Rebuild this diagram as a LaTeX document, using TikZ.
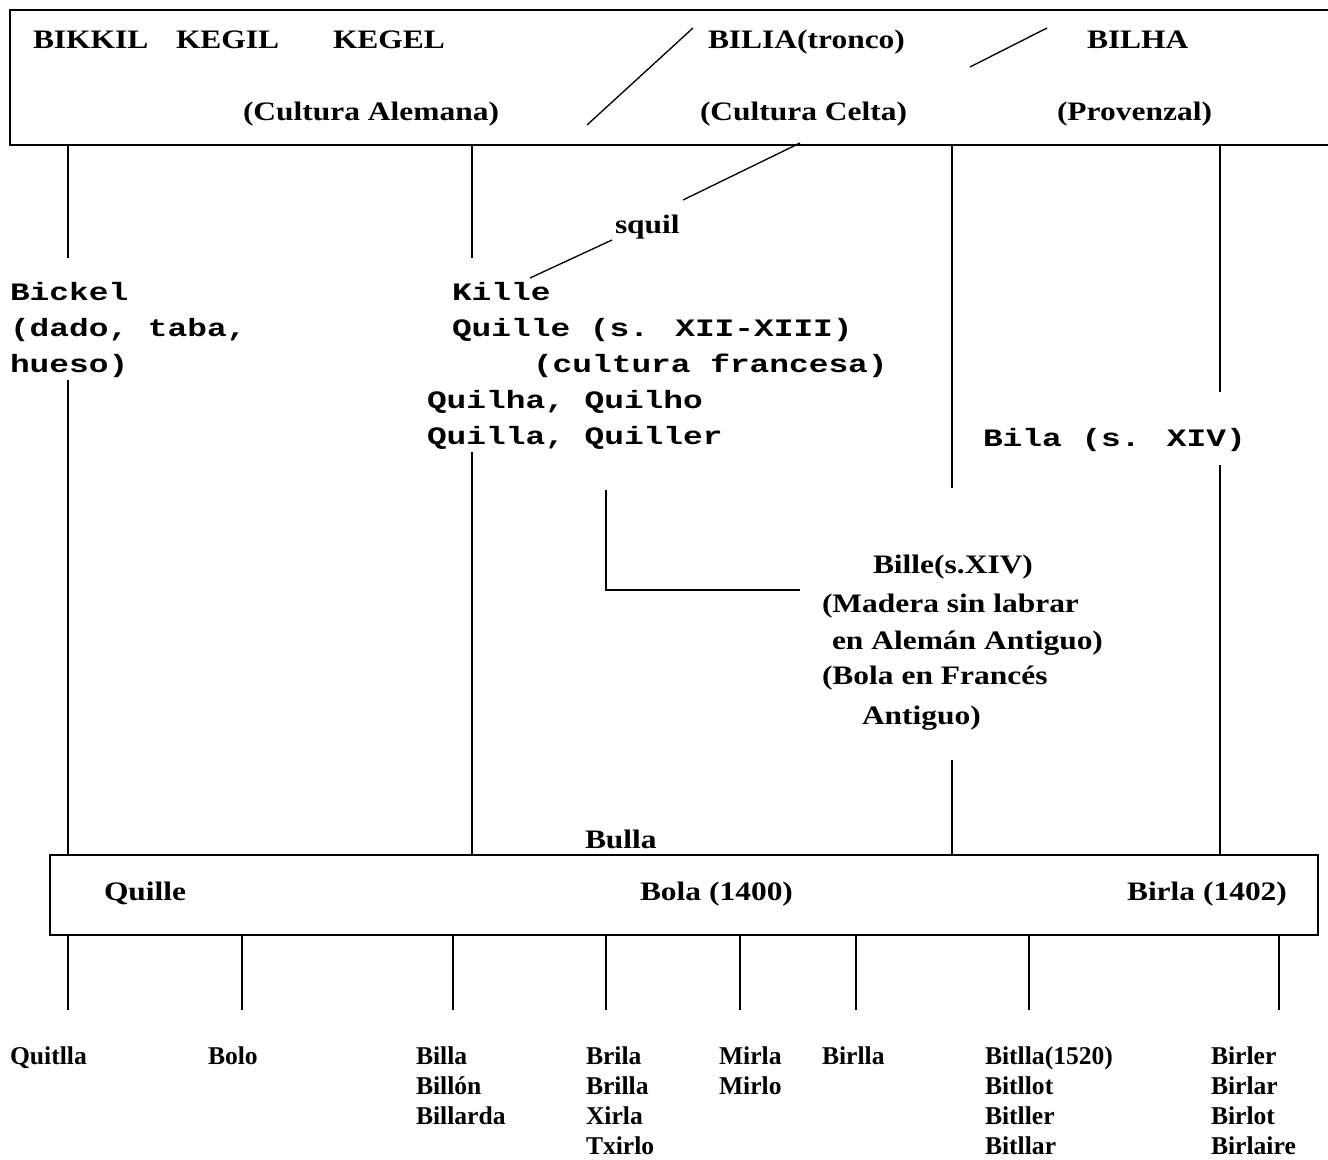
\documentclass[tikz,border=0pt]{standalone}
\usepackage{fontspec}
\setmainfont{Liberation Serif}
\newfontfamily\topserif[FakeStretch=1.18]{Liberation Serif}
\newfontfamily\botserif{Liberation Serif}
\newfontfamily\monofam[FakeStretch=1.31]{Liberation Mono}
\tikzset{
  txt/.style={anchor=base west, inner sep=0pt, outer sep=0pt},
  big/.style={txt, font=\topserif\bfseries\fontsize{20}{24}\selectfont},
  mono/.style={txt, font=\monofam\bfseries\fontsize{18.8}{27}\selectfont},
  small/.style={txt, font=\botserif\bfseries\fontsize{19.2}{22.5}\selectfont},
  boxline/.style={line width=1.4pt},
  conn/.style={line width=1pt},
}
\begin{document}
\begin{tikzpicture}[x=0.75pt, y=-0.75pt]
\useasboundingbox (0,0) rectangle (1328,1160);
% boxes
\draw[boxline] (1345,10) -- (10,10) -- (10,145) -- (1345,145);
\draw[boxline] (50,855) rectangle (1318,935);
% top texts
\node[big] (bikkil) at (33,48) {BIKKIL};
\node[big] (kegil) at (176,48) {KEGIL};
\node[big] (kegel) at (333,48) {KEGEL};
\node[big] (bilia) at (708,48) {BILIA(tronco)};
\node[big] (bilha) at (1087,48) {BILHA};
\node[big] (alemana) at (243,120) {(Cultura Alemana)};
\node[big] (celta) at (700,120) {(Cultura Celta)};
\node[big] (provenzal) at (1057,120) {(Provenzal)};
% mono texts
\node[mono] (bickel1) at (10,300) {Bickel};
\node[mono] (bickel2) at (10,336) {(dado, taba,};
\node[mono] (bickel3) at (10,372) {hueso)};
\node[mono] (kille) at (452,300) {Kille};
\node[mono] (quille1) at (452,336) {Quille (s. XII-XIII)};
\node[mono] (francesa) at (533,372) {(cultura francesa)};
\node[mono] (quilha) at (427,408) {Quilha, Quilho};
\node[mono] (quilla) at (427,444) {Quilla, Quiller};
\node[mono] (bila) at (983,446) {Bila (s. XIV)};
\node[big] (squil) at (615,233) {squil};
% Bille block
\node[big] (bille1) at (873,573) {Bille(s.XIV)};
\node[big] (bille2) at (822,612) {(Madera sin labrar};
\node[big] (bille3) at (832,649) {en Alemán Antiguo)};
\node[big] (bille4) at (822,684) {(Bola en Francés};
\node[big] (bille5) at (862,724) {Antiguo)};
% bottom box texts
\node[big] (bulla) at (585,848) {Bulla};
\node[big] (quilleb) at (104,900) {Quille};
\node[big] (bola) at (640,900) {Bola (1400)};
\node[big] (birla) at (1127,900) {Birla (1402)};
% bottom labels (one node per line)
\foreach \n/\x/\y/\t in {
  quitlla/10/1064/Quitlla, bolo/208/1064/Bolo,
  billa/416/1064/Billa, billon/416/1094/Billón, billarda/416/1124/Billarda,
  brila/586/1064/Brila, brilla/586/1094/Brilla, xirla/586/1124/Xirla, txirlo/586/1154/Txirlo,
  mirla/719/1064/Mirla, mirlo/719/1094/Mirlo,
  birlla/822/1064/Birlla,
  bitlla/985/1064/Bitlla(1520), bitllot/985/1094/Bitllot, bitller/985/1124/Bitller, bitllar/985/1154/Bitllar,
  birler/1211/1064/Birler, birlar/1211/1094/Birlar, birlot/1211/1124/Birlot, birlaire/1211/1154/Birlaire}
  {\node[small] (\n) at (\x,\y) {\t};}
% coordinates for connectors
\foreach \n/\x/\y in {a1/68/145, a2/68/258, b1/472/145, b2/472/258, c1/952/145, c2/952/488,
  d1/1220/145, d2/1220/392, e1/68/380, e2/68/855, f1/472/452, f2/472/855,
  g1/606/490, g2/606/590, g3/800/590, h1/952/760, h2/952/855, i1/1220/465, i2/1220/855,
  j1/587/125, j2/693/28, k1/970/67, k2/1047/28, l1/800/143, l2/683/200, m1/612/240, m2/530/278}
  {\coordinate (\n) at (\x,\y);}
\draw[conn] (a1) -- (a2);
\draw[conn] (b1) -- (b2);
\draw[conn] (c1) -- (c2);
\draw[conn] (d1) -- (d2);
\draw[conn] (e1) -- (e2);
\draw[conn] (f1) -- (f2);
\draw[conn] (g1) -- (g2) -- (g3);
\draw[conn] (h1) -- (h2);
\draw[conn] (i1) -- (i2);
\draw[conn] (j1) -- (j2);
\draw[conn] (k1) -- (k2);
\draw[conn] (l1) -- (l2);
\draw[conn] (m1) -- (m2);
% lines below bottom box
\foreach \n/\x in {q1/68, q2/242, q3/453, q4/606, q5/740, q6/856, q7/1029, q8/1279}{
  \coordinate (\n t) at (\x,935);
  \coordinate (\n b) at (\x,1010);
  \draw[conn] (\n t) -- (\n b);
}
\end{tikzpicture}
\end{document}
